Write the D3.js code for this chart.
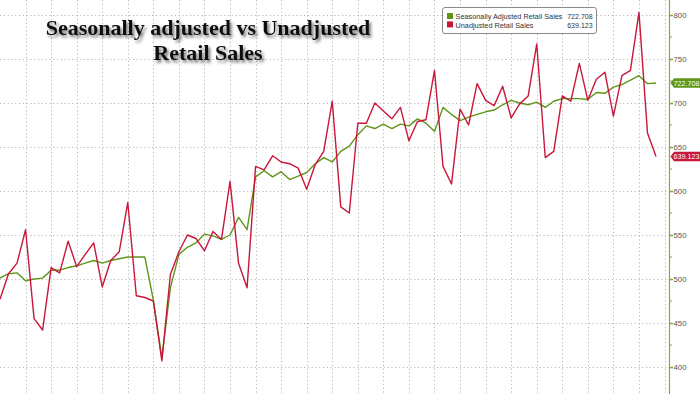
<!DOCTYPE html>
<html>
<head>
<meta charset="utf-8">
<script src="https://cdn.jsdelivr.net/npm/d3@7"></script>
<style>
  html, body { margin: 0; padding: 0; background: #fff; }
  svg { display: block; font-family: "Liberation Sans", Arial, sans-serif; }
  .grid line { stroke: #b8b8b8; stroke-width: 1; stroke-dasharray: 1.2 2.6; }
</style>
</head>
<body>
<svg id="chart"></svg>
<script>
// Monthly values, oldest first
const adjusted = [
  501, 506, 507, 498, 500, 501, 510, 510, 513, 515, 518, 521, 518, 521, 523, 525,
  525, 525, 476, 410, 490, 528, 536, 541, 551, 549, 545, 550, 570, 556, 616, 623,
  616, 622, 613, 617, 621, 631, 638, 633, 645, 651, 664, 674, 671, 676, 671, 676,
  674, 682, 677, 668, 695, 687, 680, 684, 687, 690, 692, 698, 703, 700, 698, 701,
  695, 702, 705, 705, 705, 704, 712, 711, 718, 721, 726, 731, 722, 722.708
];
const unadjusted = [
  477, 506, 518, 556, 455, 442, 513, 507, 543, 514, 528, 541, 491, 521, 531, 587,
  481, 479, 475, 407, 505, 531, 550, 546, 532, 554, 545, 611, 518, 490, 628, 624,
  640, 633, 631, 626, 602, 630, 645, 702, 582, 575, 677, 677, 700, 691, 682, 695,
  657, 679, 681, 737, 628, 608, 693, 675, 722, 703, 697, 719, 683, 699, 708, 767,
  638, 645, 708, 702, 745, 703, 727, 735, 685, 731, 737, 803, 666, 639.123
];
const seriesNames = ['Seasonally Adjusted Retail Sales', 'Unadjusted Retail Sales'];
const lastLabels = ['722.708', '639.123'];
const yTicks = [400, 450, 500, 550, 600, 650, 700, 750, 800];
const yMinor = [425, 475, 525, 575, 625, 675, 725, 775];
const titleLines = ['Seasonally adjusted vs Unadjusted', 'Retail Sales'];

const W = 700, H = 394;
const GREEN = '#5f9618', RED = '#c8173a', AXIS = '#86a845';
const axisX = 669.5;

const svg = d3.select('#chart').attr('width', W).attr('height', H);
svg.append('rect').attr('width', W).attr('height', H).attr('fill', '#fff');

const x = d3.scaleLinear().domain([0, adjusted.length - 1]).range([0, 656]);
const y = d3.scaleLinear().domain([400, 800]).range([367, 15]);

// grid
const grid = svg.append('g').attr('class', 'grid');
grid.selectAll('.gx')
  .data(d3.range(3, adjusted.length + 1, 3))
  .join('line')
  .attr('x1', d => Math.round(x(d)) + 0.5).attr('x2', d => Math.round(x(d)) + 0.5)
  .attr('y1', 0).attr('y2', H);
grid.selectAll('.gy')
  .data(yTicks)
  .join('line')
  .attr('x1', 0).attr('x2', axisX)
  .attr('y1', d => Math.round(y(d)) + 0.5).attr('y2', d => Math.round(y(d)) + 0.5);

// right axis
const axis = svg.append('g').attr('transform', `translate(${axisX},0)`);
axis.call(d3.axisRight(y).tickValues(yTicks).tickSize(3.5).tickPadding(0.5));
axis.select('.domain').remove();
axis.selectAll('.tick line').attr('stroke', AXIS).attr('stroke-width', 1.6);
axis.selectAll('.tick text')
  .attr('fill', '#555').attr('font-size', '7.8px')
  .attr('font-family', '"Liberation Sans", Arial, sans-serif');
axis.selectAll('.minor')
  .data(yMinor)
  .join('line')
  .attr('x1', 0).attr('x2', 2.5)
  .attr('y1', d => y(d)).attr('y2', d => y(d))
  .attr('stroke', AXIS).attr('stroke-width', 1);
axis.append('line')
  .attr('x1', 0).attr('x2', 0).attr('y1', 0).attr('y2', H)
  .attr('stroke', AXIS).attr('stroke-width', 1.2);

// lines
const line = d3.line().x((d, i) => x(i)).y(d => y(d));
svg.append('path').datum(adjusted)
  .attr('d', line).attr('fill', 'none')
  .attr('stroke', GREEN).attr('stroke-width', 1.4).attr('stroke-linejoin', 'round');
svg.append('path').datum(unadjusted)
  .attr('d', line).attr('fill', 'none')
  .attr('stroke', RED).attr('stroke-width', 1.4).attr('stroke-linejoin', 'round');

// last value tags
const tags = [
  { v: adjusted[adjusted.length - 1], label: lastLabels[0], color: GREEN },
  { v: unadjusted[unadjusted.length - 1], label: lastLabels[1], color: RED }
];
const tag = svg.selectAll('.tag').data(tags).join('g')
  .attr('transform', d => `translate(0,${y(d.v)})`);
tag.append('path')
  .attr('d', 'M670.5,0 L674,-4.8 L700,-4.8 L700,4.8 L674,4.8 Z')
  .attr('fill', d => d.color);
tag.append('text')
  .attr('x', 673.5).attr('y', 2.8)
  .attr('fill', '#fff').attr('font-size', '7.5px')
  .attr('textLength', 26).attr('lengthAdjust', 'spacingAndGlyphs')
  .text(d => d.label);

// legend
const legend = svg.append('g');
legend.append('rect')
  .attr('x', 442.5).attr('y', 7.5).attr('width', 154).attr('height', 26).attr('rx', 2.5)
  .attr('fill', '#fff').attr('stroke', '#8a8a8a').attr('stroke-width', 1);
const rows = legend.selectAll('.row').data([GREEN, RED]).join('g')
  .attr('transform', (d, i) => `translate(0,${i * 8.4})`);
rows.append('rect')
  .attr('x', 447).attr('y', 13).attr('width', 6).attr('height', 6)
  .attr('fill', d => d);
rows.append('text')
  .attr('x', 455.5).attr('y', 19.3)
  .attr('font-size', '7.4px').attr('fill', '#333')
  .attr('textLength', (d, i) => i === 0 ? 107 : 78)
  .attr('lengthAdjust', 'spacingAndGlyphs')
  .text((d, i) => seriesNames[i]);
rows.append('text')
  .attr('x', 592.7).attr('y', 19.3).attr('text-anchor', 'end')
  .attr('font-size', '7.4px').attr('fill', '#333')
  .attr('textLength', 25.5).attr('lengthAdjust', 'spacingAndGlyphs')
  .text((d, i) => lastLabels[i]);

// title with soft shadow
const defs = svg.append('defs');
const f = defs.append('filter').attr('id', 'shadow')
  .attr('x', '-10%').attr('y', '-30%').attr('width', '120%').attr('height', '170%');
f.append('feDropShadow')
  .attr('dx', 2).attr('dy', 2.5).attr('stdDeviation', 1.6)
  .attr('flood-color', '#444').attr('flood-opacity', 0.75);
svg.append('g').attr('filter', 'url(#shadow)')
  .selectAll('text').data(titleLines).join('text')
  .attr('x', 208).attr('y', (d, i) => 35 + i * 25)
  .attr('text-anchor', 'middle')
  .attr('font-family', '"Liberation Serif", "DejaVu Serif", serif')
  .attr('font-weight', 'bold').attr('font-size', '22px').attr('fill', '#111')
  .text(d => d);
</script>
</body>
</html>
